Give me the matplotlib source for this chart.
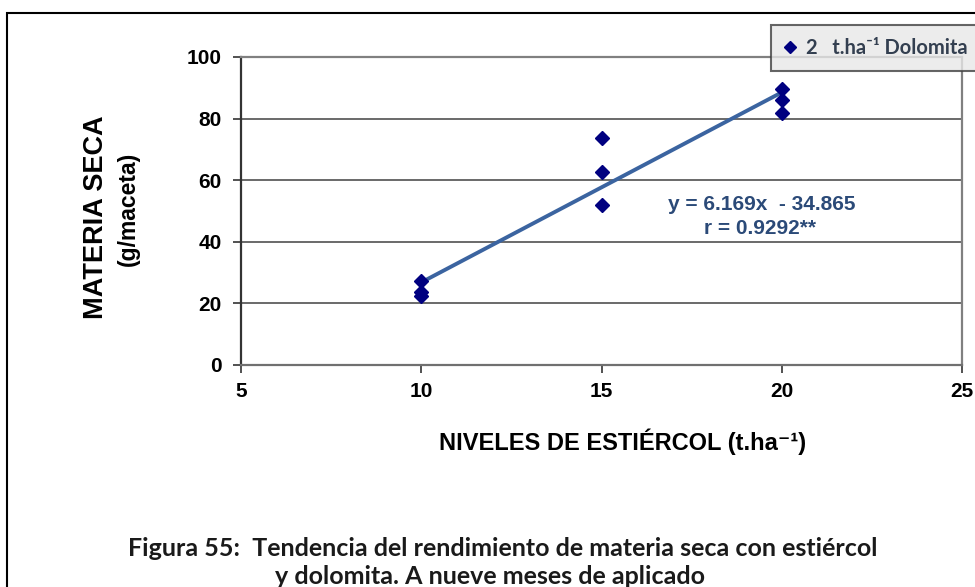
import matplotlib
matplotlib.use("Agg")
import matplotlib.pyplot as plt
from matplotlib.patches import Rectangle
from matplotlib.lines import Line2D

# Dry-matter yield per pot at three manure levels (2 t/ha dolomite)
manure_levels = [10, 10, 10, 15, 15, 15, 20, 20, 20]
dry_matter = [27.3, 23.7, 22.4, 73.6, 62.6, 51.9, 89.6, 86.0, 81.7]

# Fitted trend
slope = 6.169
intercept = -34.865
r_value = 0.9292
trend_x = [10, 20]

x_ticks = [5, 10, 15, 20, 25]
y_ticks = [0, 20, 40, 60, 80, 100]

series_label = "2   t.ha\u207b\u00b9 Dolomita"
x_label = "NIVELES DE ESTI\u00c9RCOL (t.ha\u207b\u00b9)"
y_label_main = "MATERIA SECA"
y_label_unit = "(g/maceta)"
caption_1 = "Figura 55:  Tendencia del rendimiento de materia seca con esti\u00e9rcol"
caption_2 = "y dolomita. A nueve meses de aplicado"

SANS = ["Liberation Sans", "DejaVu Sans"]
CAPTION_FONT = ["Lato", "DejaVu Sans"]
plt.rcParams["font.family"] = SANS

W, H = 975, 587
fig = plt.figure(figsize=(W / 100, H / 100), dpi=100)
fig.patch.set_facecolor("white")

# outer frame
fig.add_artist(Rectangle((7 / W, -0.05), 1.2, 1 - 13 / H + 0.05,
                         transform=fig.transFigure, fill=False,
                         edgecolor="black", linewidth=1.5))

left, right = 241 / W, 962 / W
bottom, top = 1 - 365 / H, 1 - 57 / H
ax = fig.add_axes([left, bottom, right - left, top - bottom])
ax.set_xlim(5, 25)
ax.set_ylim(0, 100)
ax.set_xticks(x_ticks)
ax.set_yticks(y_ticks)
ax.set_xticklabels([str(v) for v in x_ticks], fontsize=15, fontweight="bold")
ax.set_yticklabels([str(v) for v in y_ticks], fontsize=15, fontweight="bold")
ax.tick_params(axis="both", direction="out", length=6, width=1.2,
               color="#333333")
ax.tick_params(axis="y", pad=8)
ax.tick_params(axis="x", pad=6)

for v in y_ticks[1:]:
    ax.axhline(v, color="#505050", linewidth=1.2, zorder=1)

ax.spines["left"].set_color("#333333")
ax.spines["left"].set_linewidth(1.6)
ax.spines["bottom"].set_color("#707070")
ax.spines["bottom"].set_linewidth(1.6)
ax.spines["right"].set_color("#808080")
ax.spines["right"].set_linewidth(1.6)
ax.spines["top"].set_color("#808080")
ax.spines["top"].set_linewidth(1.6)

trend_y = [slope * x + intercept for x in trend_x]
ax.plot(trend_x, trend_y, color="#3b64a0", linewidth=2.8, zorder=3,
        solid_capstyle="butt")
ax.plot(manure_levels, dry_matter, linestyle="none", marker="D",
        markersize=7, color="#000080", zorder=4, clip_on=False)

eq_color = "#2b4a78"
ax.text(16.85, 52.0, f"y = {slope}x  - {abs(intercept)}", fontsize=15,
        fontweight="bold", color=eq_color, ha="left", va="center")
ax.text(17.85, 44.3, f"r = {r_value}**", fontsize=15,
        fontweight="bold", color=eq_color, ha="left", va="center")

# axis titles
fig.text(96 / W, 1 - 217 / H, y_label_main, rotation=90, fontsize=19.5,
         fontweight="bold", ha="center", va="center")
fig.text(128 / W, 1 - 209 / H, y_label_unit, rotation=90, fontsize=16.5,
         fontweight="bold", ha="center", va="center")
fig.text(623 / W, 1 - 442 / H, x_label, fontsize=17, fontweight="bold",
         ha="center", va="center")

# legend
handle = Line2D([], [], linestyle="none", marker="D", markersize=6,
                color="#000080")
leg = fig.legend([handle], [series_label], loc="upper left",
                 bbox_to_anchor=(771 / W, 1 - 25 / H),
                 bbox_transform=fig.transFigure,
                 frameon=True, fancybox=False, handlelength=0.6,
                 handletextpad=0.5, borderpad=0.65, borderaxespad=0,
                 prop={"family": CAPTION_FONT, "weight": "bold",
                       "size": 14.5})
leg._legend_box.sep = 0
leg.get_frame().set_facecolor("#e8e8e8")
leg.get_frame().set_edgecolor("#404040")
leg.get_frame().set_linewidth(1.5)
for t in leg.get_texts():
    t.set_color("#333f50")

fig.text(503 / W, 1 - 548 / H, caption_1, fontsize=18, fontweight="bold",
         family=CAPTION_FONT, ha="center", va="center", color="#1a1a1a")
fig.text(490 / W, 1 - 576 / H, caption_2, fontsize=18, fontweight="bold",
         family=CAPTION_FONT, ha="center", va="center", color="#1a1a1a")

fig.savefig("out.png", dpi=100, facecolor="white")
